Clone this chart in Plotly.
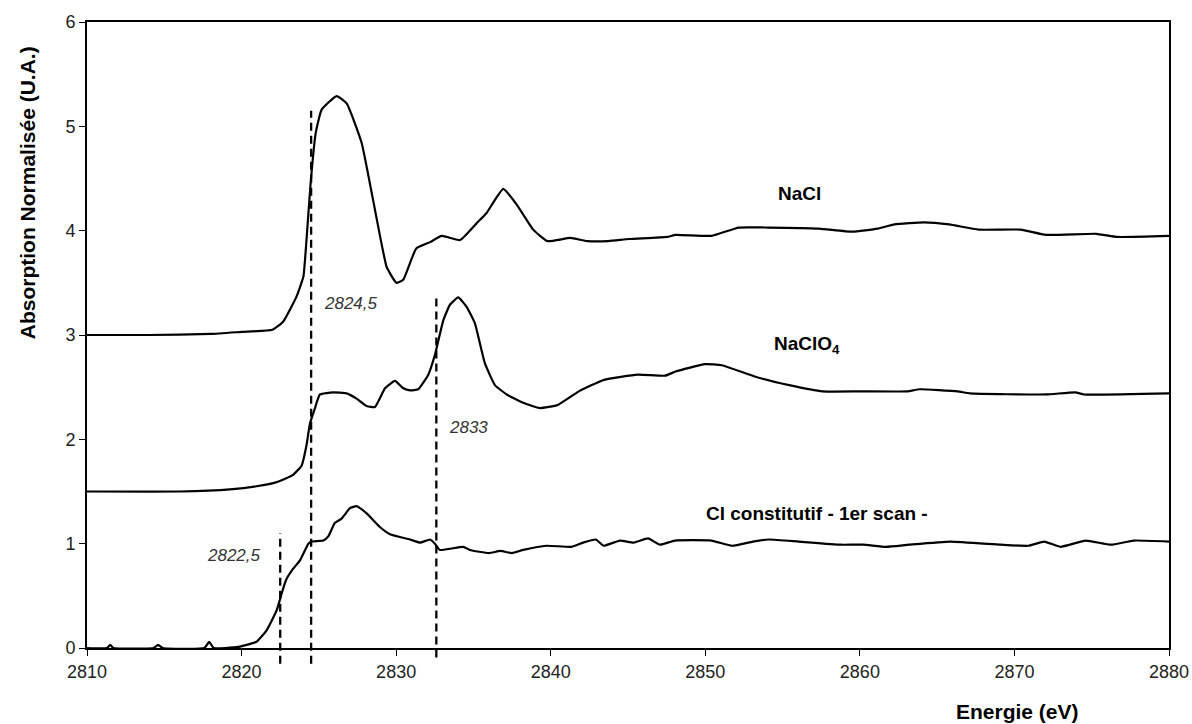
import plotly.graph_objects as go

# ---- data ----
nacl_x = [2810, 2814, 2818, 2820, 2822.0, 2822.7, 2823.56, 2824.0, 2824.2, 2824.47, 2824.8, 2825.18,
          2826.15, 2826.8, 2827.77, 2828.5, 2829.39, 2829.9, 2830.03, 2830.46, 2831.3, 2832.19,
          2832.94, 2834.13, 2835.2, 2835.85, 2836.93, 2837.8, 2838.87, 2839.78, 2841.27, 2842.36,
          2843.73, 2845.08, 2847.54, 2848.08, 2850.4, 2852.17, 2854.07, 2857.34, 2859.52, 2861.15,
          2862.24, 2864.14, 2865.78, 2867.68, 2870.4, 2872.03, 2875.3, 2876.66, 2880]
nacl_y = [3.00, 3.00, 3.01, 3.03, 3.05, 3.13, 3.37, 3.56, 3.91, 4.46, 4.94, 5.16,
          5.29, 5.22, 4.84, 4.30, 3.65, 3.52, 3.50, 3.53, 3.83, 3.89,
          3.95, 3.91, 4.07, 4.17, 4.40, 4.25, 4.01, 3.90, 3.93, 3.90,
          3.90, 3.92, 3.94, 3.96, 3.95, 4.03, 4.03, 4.02, 3.99, 4.02,
          4.06, 4.08, 4.06, 4.01, 4.01, 3.96, 3.97, 3.94, 3.95]

naclo4_x = [2810, 2816.0, 2819.25, 2820.97, 2822.27, 2823.34, 2823.89, 2824.21, 2824.42, 2824.75,
            2825.07, 2825.93, 2826.8, 2827.44, 2828.09, 2828.63, 2829.28, 2829.92, 2830.46, 2830.9,
            2831.43, 2832.08, 2832.51, 2833.05, 2833.48, 2834.02, 2834.56, 2835.1, 2835.74, 2836.39,
            2837.15, 2838.22, 2839.3, 2840.46, 2841.82, 2843.45, 2845.63, 2847.4, 2848.08, 2849.98,
            2851.07, 2853.25, 2855.43, 2857.6, 2860.06, 2863.05, 2863.87, 2866.32, 2867.13, 2872.03,
            2873.94, 2874.5, 2880]
naclo4_y = [1.50, 1.50, 1.52, 1.55, 1.59, 1.66, 1.75, 1.95, 2.15, 2.30,
            2.43, 2.45, 2.44, 2.39, 2.32, 2.31, 2.49, 2.56, 2.49, 2.47,
            2.48, 2.62, 2.81, 3.14, 3.29, 3.36, 3.27, 3.11, 2.73, 2.52,
            2.43, 2.35, 2.30, 2.33, 2.46, 2.57, 2.62, 2.61, 2.65, 2.72,
            2.71, 2.60, 2.52, 2.46, 2.46, 2.46, 2.48, 2.46, 2.44, 2.43,
            2.45, 2.43, 2.44]

cl_x = [2810, 2811.3, 2811.5, 2811.7, 2814.3, 2814.6, 2814.9, 2817.6, 2817.9, 2818.2, 2819.79,
        2820.97, 2821.62, 2822.27, 2822.59, 2822.87, 2823.34, 2823.78, 2824.32, 2824.53, 2825.29,
        2825.61, 2826.04, 2826.47, 2827.01, 2827.44, 2828.09, 2828.95, 2829.6, 2830.89, 2831.54,
        2832.19, 2832.51, 2832.83, 2834.34, 2834.77, 2836.0, 2836.75, 2837.49, 2838.23, 2839.72,
        2841.35, 2842.09, 2842.92, 2843.42, 2844.47, 2845.36, 2846.3, 2847.08, 2848.03, 2850.4,
        2851.74, 2853.08, 2854.12, 2856.05, 2858.73, 2860.21, 2861.7, 2863.18, 2865.85, 2869.12,
        2870.9, 2871.94, 2872.97, 2874.61, 2876.24, 2877.72, 2880]
cl_y = [0.00, 0.00, 0.03, 0.00, 0.00, 0.03, 0.00, 0.00, 0.06, 0.00, 0.01,
        0.06, 0.17, 0.36, 0.52, 0.65, 0.76, 0.84, 1.00, 1.02, 1.03,
        1.07, 1.20, 1.24, 1.34, 1.36, 1.29, 1.16, 1.09, 1.04, 1.01,
        1.04, 1.00, 0.94, 0.97, 0.94, 0.91, 0.93, 0.91, 0.94, 0.98,
        0.97, 1.01, 1.04, 0.98, 1.03, 1.01, 1.05, 0.99, 1.03, 1.03,
        0.98, 1.02, 1.04, 1.02, 0.99, 0.99, 0.97, 0.99, 1.02, 0.99,
        0.98, 1.02, 0.97, 1.03, 0.99, 1.03, 1.02]

# reference (dashed) energies and their vertical extents
dash_x = [2822.5, 2824.5, 2832.6]
dash_top = [1.10, 5.15, 3.38]
dash_bottom = [-0.15, -0.15, -0.09]

# labels
series_labels = ["NaCl", "NaClO<sub>4</sub>", "Cl constitutif - 1er scan -"]
series_label_x = [2856.1, 2856.6, 2857.2]
series_label_y = [4.36, 2.90, 1.29]

energy_labels = ["2824,5", "2833", "2822,5"]
energy_label_x = [2825.2, 2833.3, 2821.4]
energy_label_y = [3.30, 2.11, 0.89]
energy_label_anchor = ["left", "left", "right"]

x_range = [2810, 2880]
y_range = [0, 6]
x_ticks = [2810, 2820, 2830, 2840, 2850, 2860, 2870, 2880]
y_ticks = [0, 1, 2, 3, 4, 5, 6]

FONT = "Arial, Liberation Sans, sans-serif"

fig = go.Figure()
for xs, ys in [(nacl_x, nacl_y), (naclo4_x, naclo4_y), (cl_x, cl_y)]:
    fig.add_trace(go.Scatter(x=xs, y=ys, mode="lines",
                             line=dict(color="black", width=2.2, shape="spline", smoothing=0.4),
                             showlegend=False, hoverinfo="skip"))

def yfrac(v):
    return (v - y_range[0]) / (y_range[1] - y_range[0])

for xv, top, bot in zip(dash_x, dash_top, dash_bottom):
    fig.add_shape(type="line", xref="x", yref="y domain",
                  x0=xv, x1=xv, y0=yfrac(bot), y1=yfrac(top),
                  line=dict(color="black", width=2.3, dash="8px,5px"))

for t, xv, yv in zip(series_labels, series_label_x, series_label_y):
    fig.add_annotation(x=xv, y=yv, xref="x", yref="y", text=t, showarrow=False,
                       xanchor="center", yanchor="middle",
                       font=dict(family=FONT, size=19, color="black", weight="bold"))

for t, xv, yv, a in zip(energy_labels, energy_label_x, energy_label_y, energy_label_anchor):
    fig.add_annotation(x=xv, y=yv, xref="x", yref="y", text="<i>" + t + "</i>", showarrow=False,
                       xanchor=a, yanchor="middle",
                       font=dict(family=FONT, size=17, color="#333333"))

fig.add_annotation(x=-0.0555, y=0.728, xref="paper", yref="paper",
                   text="Absorption Normalisée (U.A.)", textangle=-90, showarrow=False,
                   xanchor="center", yanchor="middle",
                   font=dict(family=FONT, size=21, color="black", weight="bold"))
fig.add_annotation(x=0.8604, y=-0.102, xref="paper", yref="paper",
                   text="Energie (eV)", showarrow=False,
                   xanchor="center", yanchor="middle",
                   font=dict(family=FONT, size=21, color="black", weight="bold"))

fig.update_xaxes(range=x_range, tickvals=x_ticks, ticks="outside", ticklen=6, tickwidth=1,
                 tickcolor="black", showline=True, linecolor="black", linewidth=2, mirror=True,
                 showgrid=False, zeroline=False, automargin=False,
                 tickfont=dict(family=FONT, size=18, color="#222222"))
fig.update_yaxes(range=y_range, tickvals=y_ticks, ticks="outside", ticklen=6, tickwidth=1,
                 tickcolor="black", showline=True, linecolor="black", linewidth=2, mirror=True,
                 showgrid=False, zeroline=False, automargin=False,
                 tickfont=dict(family=FONT, size=18, color="#222222"))

fig.update_layout(width=1192, height=724, autosize=False,
                  plot_bgcolor="white", paper_bgcolor="white",
                  margin=dict(l=87, r=23, t=22, b=76), showlegend=False)

fig.write_html("out.html",
               config={"displayModeBar": False, "responsive": False, "staticPlot": True},
               default_width="1192px", default_height="724px",
               post_script="document.body.style.margin='0';document.body.style.overflow='hidden';")
